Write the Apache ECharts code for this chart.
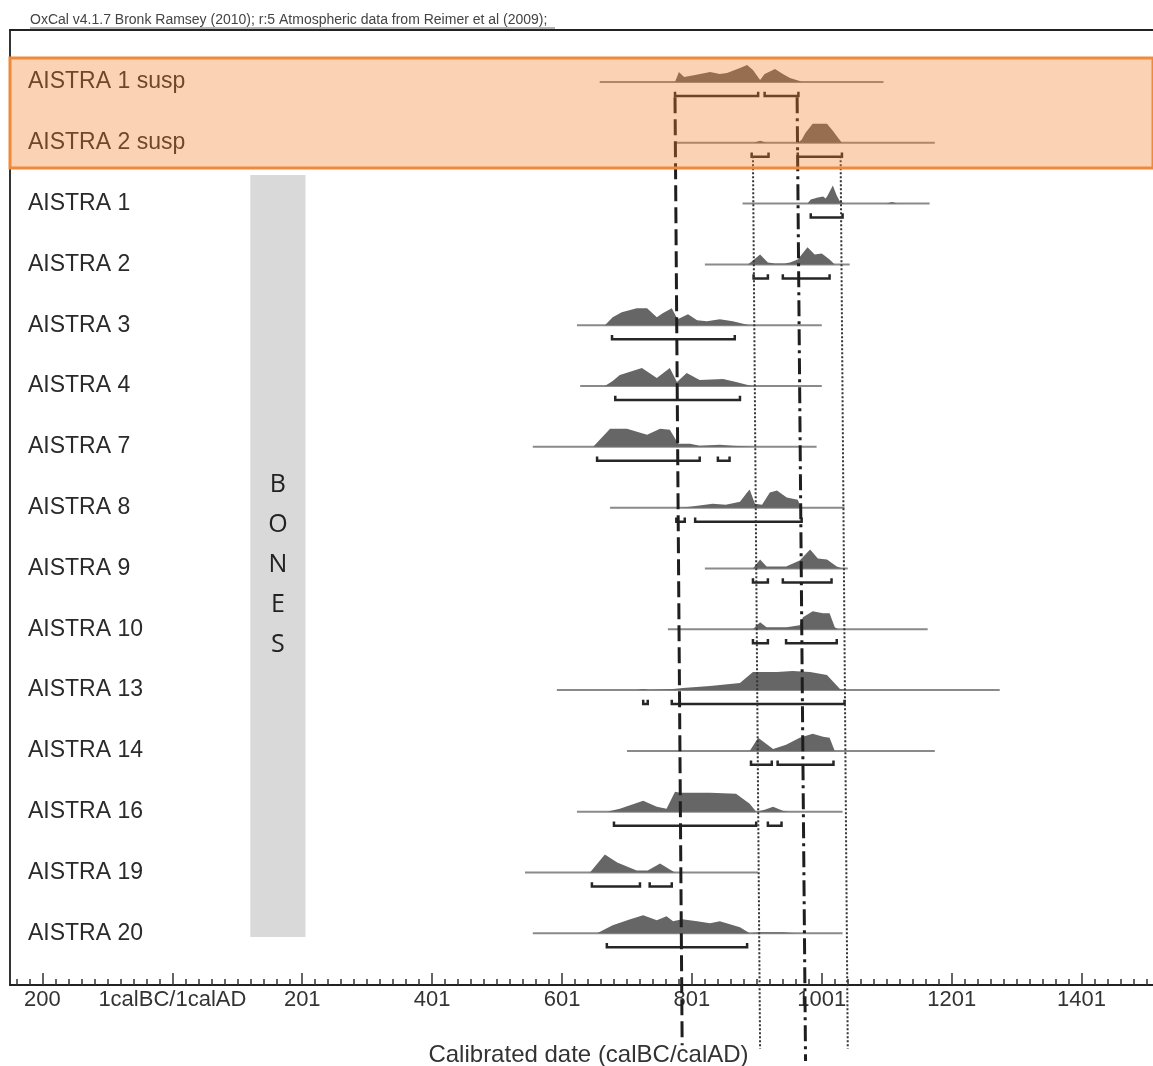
<!DOCTYPE html>
<html>
<head>
<meta charset="utf-8">
<script src="https://cdn.jsdelivr.net/npm/echarts@6/dist/echarts.min.js"></script>
<style>
  html, body { margin: 0; padding: 0; background: #fff; }
  #chart { width: 1153px; height: 1066px; }
</style>
</head>
<body>
<div id="chart"></div>
<script>
// sample names, top to bottom
const labels = [
  'AISTRA 1 susp', 'AISTRA 2 susp', 'AISTRA 1', 'AISTRA 2', 'AISTRA 3', 'AISTRA 4', 'AISTRA 7',
  'AISTRA 8', 'AISTRA 9', 'AISTRA 10', 'AISTRA 13', 'AISTRA 14', 'AISTRA 16', 'AISTRA 19', 'AISTRA 20'
]

// extent of the thin likelihood line (calendar years, axis units)
const lineExtent = [
  [658, 1095], [774, 1174], [878, 1166], [820, 1043], [623, 1000], [628, 1000], [555, 992],
  [674, 1035], [820, 1040], [763, 1163], [592, 1274], [700, 1174], [623, 1032], [543, 902], [555, 1032]
]

// posterior densities: [year, relative probability]
const densities = [
  [[774,0],[780,0.5],[788,0.25],[805,0.35],[828,0.5],[843,0.4],[854,0.45],[874,0.7],[885,0.85],[894,0.6],[905,0.1],[912,0.4],[928,0.65],[940,0.4],[951,0.2],[966,0.05],[969,0]],
  [[895,0],[905,0.1],[915,0],[963,0],[969,0.15],[975,0.5],[986,0.95],[1008,0.95],[1017,0.6],[1025,0.25],[1031,0]],
  [[978,0],[983,0.2],[994,0.3],[1002,0.35],[1006,0.25],[1009,0.4],[1017,0.9],[1023,0.4],[1028,0.1],[1035,0],[1100,0],[1108,0.08],[1116,0]],
  [[886,0],[894,0.2],[905,0.5],[917,0.1],[928,0.05],[943,0.05],[951,0.1],[963,0.25],[978,0.85],[989,0.5],[1000,0.55],[1012,0.25],[1020,0]],
  [[666,0],[678,0.4],[692,0.65],[715,0.85],[731,0.85],[746,0.4],[755,0.6],[769,0.85],[778,0.3],[794,0.55],[808,0.25],[823,0.2],[843,0.3],[863,0.2],[882,0.05],[889,0]],
  [[666,0],[678,0.25],[689,0.55],[723,0.9],[746,0.4],[766,0.9],[777,0.2],[792,0.65],[812,0.3],[848,0.35],[868,0.2],[892,0]],
  [[648,0],[674,0.9],[700,0.9],[731,0.6],[751,0.9],[766,0.85],[779,0.15],[797,0.15],[812,0.05],[843,0.1],[863,0.05],[894,0]],
  [[779,0],[797,0.05],[832,0.2],[852,0.15],[874,0.3],[885,0.75],[889,0.9],[897,0.2],[908,0.15],[920,0.75],[931,0.85],[946,0.5],[963,0.4],[968,0]],
  [[894,0],[905,0.45],[915,0.1],[945,0.1],[966,0.4],[982,0.95],[994,0.5],[1008,0.45],[1023,0.1],[1032,0]],
  [[894,0],[905,0.35],[915,0.1],[946,0.1],[966,0.2],[971,0.6],[986,0.9],[1002,0.8],[1012,0.8],[1020,0.1],[1025,0]],
  [[715,0],[725,0.05],[735,0],[771,0.05],[786,0.1],[828,0.2],[874,0.35],[894,0.9],[931,0.9],[955,0.95],[982,0.9],[1008,0.75],[1028,0.05],[1035,0]],
  [[889,0],[902,0.65],[925,0.1],[945,0.3],[966,0.65],[986,0.85],[1002,0.7],[1012,0.65],[1020,0]],
  [[669,0],[689,0.15],[725,0.55],[746,0.25],[761,0.15],[774,1.0],[782,0.95],[828,0.95],[868,0.9],[889,0.4],[899,0],[912,0.1],[925,0.25],[940,0.05],[950,0]],
  [[643,0],[666,0.9],[685,0.5],[715,0.1],[732,0.1],[751,0.45],[766,0.15],[774,0]],
  [[654,0],[678,0.4],[705,0.7],[725,0.9],[746,0.65],[761,0.85],[771,0.6],[785,0.7],[808,0.6],[828,0.5],[843,0.6],[874,0.3],[889,0],[905,0.05],[940,0.05],[960,0]]
]

// 95% ranges under each distribution
const hpdRanges = [
  [[774,902],[912,964]], [[892,918],[963,1031]], [[983,1032]], [[895,917],[940,1012]],
  [[677,866]], [[682,874]], [[654,812],[840,858]], [[776,789],[805,969]],
  [[894,917],[940,1015]], [[894,917],[945,1023]], [[725,732],[769,1035]],
  [[891,923],[932,1018]], [[680,899],[917,938]], [[646,720],[735,769]], [[669,885]]
]

// modelled boundaries: [year at top, year at bottom, top row, bottom row]
const boundaries = [
  [774, 785, 0.25, 15.84],
  [962, 975, 0.25, 16.1],
  [894, 905, 1.22, 15.9],
  [1029, 1040, 1.22, 15.9]
]
const boundaryKind = ['dash', 'dashdot', 'dot', 'dot']

// axis ticks
const majorTicks = [-200, 0, 200, 400, 600, 800, 1000, 1200, 1400]
const tickLabels = ['200', '1calBC/1calAD', '201', '401', '601', '801', '1001', '1201', '1401']
const minorTicks = []
for (let t = -240; t <= 1500; t += 20) minorTicks.push(t)

const rowIdx = labels.map((_, i) => i)

const PEAK = 0.33   // row units for a relative probability of 1
const BR = 0.23     // bracket offset below baseline
const BR_TICK = 0.07

function renderRow(params, api) {
  const i = api.value(0)
  const at = (u, dv) => api.coord([u, i + dv])
  const kids = []
  const r = lineExtent[i]
  const a = at(r[0], 0), b = at(r[1], 0)
  kids.push({ type: 'line', shape: { x1: a[0], y1: a[1], x2: b[0], y2: b[1] }, style: { stroke: '#8a8a8a', lineWidth: 2 } })
  const pts = densities[i].map(p => at(p[0], -p[1] * PEAK))
  kids.push({ type: 'polygon', shape: { points: pts }, style: { fill: '#666' } })
  hpdRanges[i].forEach(([s, e]) => {
    const p0 = at(s, BR - BR_TICK), p1 = at(s, BR), q1 = at(e, BR), q0 = at(e, BR - BR_TICK)
    kids.push({ type: 'polyline', shape: { points: [p0, p1, q1, q0] }, style: { stroke: '#262626', lineWidth: 2.5, fill: null } })
  })
  return { type: 'group', children: kids }
}

function renderBoundary(params, api) {
  const k = api.value(0)
  const bd = boundaries[k]
  const top = api.coord([bd[0], bd[2]]), bot = api.coord([bd[1], bd[3]])
  const kind = boundaryKind[k]
  const dash = kind === 'dash' ? [16, 6] : kind === 'dashdot' ? [16, 5, 3, 5] : [2, 2]
  return {
    type: 'line',
    shape: { x1: top[0], y1: top[1], x2: bot[0], y2: bot[1] },
    style: { stroke: kind === 'dot' ? '#333' : '#1e1e1e', lineWidth: kind === 'dot' ? 2 : 3, lineDash: dash }
  }
}

const chart = echarts.init(document.getElementById('chart'))
const font = 'Liberation Sans, Arial, sans-serif'

chart.setOption({
  animation: false,
  backgroundColor: '#fff',
  title: {
    text: 'OxCal v4.1.7 Bronk Ramsey (2010); r:5 Atmospheric data from Reimer et al (2009);',
    left: 25, top: 8,
    textStyle: { fontSize: 14, fontWeight: 'normal', color: '#444', fontFamily: font }
  },
  graphic: [{ type: 'line', shape: { x1: 30, y1: 28, x2: 555, y2: 28 }, style: { stroke: '#666', lineWidth: 1 } }],
  grid: { left: 10, right: 0, top: 30, bottom: 81, outerBoundsMode: 'none', containLabel: false },
  xAxis: [
    {
      type: 'value', min: -250, max: 1510, position: 'bottom',
      axisLine: { show: true, onZero: false, lineStyle: { color: '#222', width: 2 } },
      axisTick: { show: true, inside: true, length: 6, customValues: minorTicks, lineStyle: { color: '#333', width: 1.5 } },
      axisLabel: {
        customValues: majorTicks, margin: 4,
        formatter: v => tickLabels[majorTicks.indexOf(v)],
        color: '#333', fontSize: 22, fontFamily: font
      },
      splitLine: { show: false },
      name: 'Calibrated date (calBC/calAD)', nameLocation: 'middle', nameGap: 58,
      nameTextStyle: { fontSize: 24, color: '#333', fontFamily: font, padding: [0, 0, 0, 14] }
    },
    {
      type: 'value', min: -250, max: 1510, position: 'bottom',
      axisLine: { show: false, onZero: false },
      axisTick: { show: true, inside: true, length: 12, customValues: majorTicks, lineStyle: { color: '#333', width: 1.5 } },
      axisLabel: { show: false }, splitLine: { show: false }
    },
    {
      type: 'value', min: -250, max: 1510, position: 'top',
      axisLine: { show: true, onZero: false, lineStyle: { color: '#222', width: 2 } },
      axisTick: { show: false }, axisLabel: { show: false }, splitLine: { show: false }
    }
  ],
  yAxis: {
    type: 'value', inverse: true, min: -0.855, max: 14.85,
    axisLine: { show: true, onZero: false, lineStyle: { color: '#333', width: 2 } },
    axisTick: { show: false }, splitLine: { show: false },
    axisLabel: {
      inside: true, margin: 18, customValues: rowIdx,
      formatter: v => labels[v] || '',
      color: '#2a2a2a', fontSize: 23, fontFamily: font, padding: [4, 0, 0, 0]
    }
  },
  series: [
    {
      type: 'line', data: [], z: 1, silent: true,
      markArea: {
        silent: true, z: 1,
        itemStyle: { color: '#d9d9d9' },
        label: {
          show: true, position: 'inside', offset: [0, 9],
          formatter: 'B\nO\nN\nE\nS', fontSize: 25, lineHeight: 40,
          color: '#222', fontFamily: 'Open Sans, sans-serif'
        },
        data: [[{ xAxis: 120, yAxis: 1.53 }, { xAxis: 205, yAxis: 14.06 }]]
      }
    },
    {
      type: 'custom', renderItem: renderRow, clip: false, z: 2,
      encode: { x: -1, y: -1 },
      data: rowIdx.map(i => [i])
    },
    {
      type: 'custom', renderItem: renderBoundary, clip: false, z: 3,
      encode: { x: -1, y: -1 },
      data: boundaries.map((_, k) => [k])
    },
    {
      type: 'line', data: [], z: 10, silent: true,
      markArea: {
        silent: true, z: 10,
        itemStyle: { color: 'rgba(243,129,40,0.35)', borderColor: '#ef8a3a', borderWidth: 3 },
        data: [[{ xAxis: -252, yAxis: -0.395 }, { xAxis: 1520, yAxis: 1.414 }]]
      }
    }
  ]
})
</script>
</body>
</html>
